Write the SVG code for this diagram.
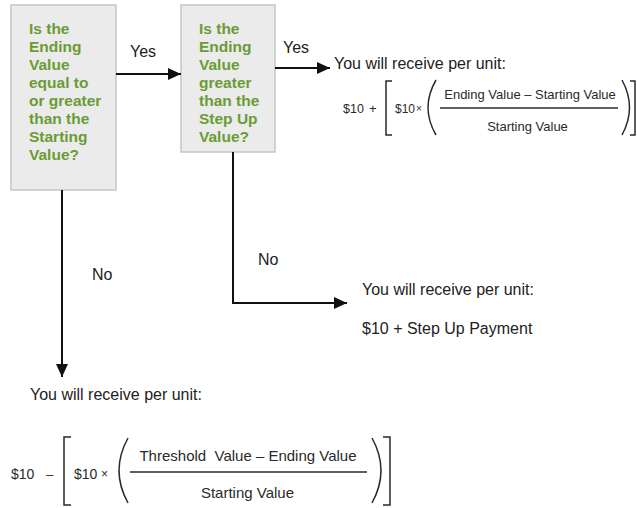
<svg xmlns="http://www.w3.org/2000/svg" width="637" height="508" viewBox="0 0 637 508">
<defs>
<style>
.box{fill:#ebebeb;stroke:#c6c6c6;stroke-width:1.5}
.q{font-family:"Liberation Sans",Arial,sans-serif;font-weight:bold;font-size:15.5px;fill:#6a9c34}
.lbl{font-family:"Liberation Sans",Arial,sans-serif;font-size:16px;fill:#222}
.f13{font-family:"Liberation Sans",Arial,sans-serif;font-size:13px;fill:#2a2a2a}
.f15{font-family:"Liberation Sans",Arial,sans-serif;font-size:15px;fill:#2a2a2a;white-space:pre}
.con{fill:none;stroke:#111;stroke-width:2}
.br{fill:none;stroke:#2a2a2a;stroke-width:1.5}
</style>
<marker id="ah" markerUnits="userSpaceOnUse" markerWidth="14" markerHeight="14" viewBox="0 0 14 14" refX="13" refY="7" orient="auto">
<path d="M0,1 L13,7 L0,13 Z" fill="#111"/>
</marker>
</defs>
<rect width="637" height="508" fill="#fff"/>

<g id="q1">
<rect class="box" x="11" y="5" width="105" height="185"/>
<text class="q" x="29" y="34">Is the</text>
<text class="q" x="29" y="52">Ending</text>
<text class="q" x="29" y="70">Value</text>
<text class="q" x="29" y="88">equal to</text>
<text class="q" x="29" y="106">or greater</text>
<text class="q" x="29" y="124">than the</text>
<text class="q" x="29" y="142">Starting</text>
<text class="q" x="29" y="160">Value?</text>
</g>

<g id="q2">
<rect class="box" x="181" y="5" width="94" height="147"/>
<text class="q" x="199" y="34">Is the</text>
<text class="q" x="199" y="52">Ending</text>
<text class="q" x="199" y="70">Value</text>
<text class="q" x="199" y="88">greater</text>
<text class="q" x="199" y="106">than the</text>
<text class="q" x="199" y="124">Step Up</text>
<text class="q" x="199" y="142">Value?</text>
</g>

<g id="connectors">
<path class="con" d="M116,74 H181" marker-end="url(#ah)"/>
<path class="con" d="M275,68 H330" marker-end="url(#ah)"/>
<path class="con" d="M233,152 V303 H347" marker-end="url(#ah)"/>
<path class="con" d="M62,190 V377" marker-end="url(#ah)"/>
<text class="lbl" x="130" y="57">Yes</text>
<text class="lbl" x="283" y="53">Yes</text>
<text class="lbl" x="258" y="265">No</text>
<text class="lbl" x="92" y="280">No</text>
</g>

<g id="outcome-stepup-plus">
<text class="lbl" x="334" y="69">You will receive per unit:</text>
<text class="f13" x="343" y="113" style="font-size:12.5px">$10</text>
<text class="f13" x="369" y="113">+</text>
<path class="br" d="M392,81 H386 V135 H392"/>
<text class="f13" x="395" y="113" style="font-size:12px">$10</text>
<text class="f13" x="416" y="112" style="font-size:10px">×</text>
<path class="br" d="M436,80 Q420,107.5 436,135"/>
<text class="f13" x="530" y="99" text-anchor="middle">Ending Value – Starting Value</text>
<line class="br" x1="440" y1="108" x2="618" y2="108"/>
<text class="f13" x="527.5" y="131" text-anchor="middle">Starting Value</text>
<path class="br" d="M622,80 Q637,107.5 622,135"/>
<path class="br" d="M630,81 H635 V135 H630"/>
</g>

<g id="outcome-stepup">
<text class="lbl" x="362" y="295">You will receive per unit:</text>
<text class="lbl" x="362" y="334">$10 + Step Up Payment</text>
</g>

<g id="outcome-loss">
<text class="lbl" x="30" y="400">You will receive per unit:</text>
<text class="f13" x="11" y="479" style="font-size:14px">$10</text>
<text class="f13" x="46" y="479">–</text>
<path class="br" d="M71,437 H64 V505 H71"/>
<text class="f13" x="74" y="479" style="font-size:14px">$10</text>
<text class="f13" x="101" y="478" style="font-size:12px">×</text>
<path class="br" d="M128,438 Q110,470.5 128,503"/>
<text class="f15" x="248" y="461" text-anchor="middle">Threshold  Value – Ending Value</text>
<line class="br" x1="130" y1="472" x2="367" y2="472"/>
<text class="f15" x="247.5" y="498" text-anchor="middle">Starting Value</text>
<path class="br" d="M372,438 Q390,470.5 372,503"/>
<path class="br" d="M383,437 H390 V505 H383"/>
</g>
</svg>
